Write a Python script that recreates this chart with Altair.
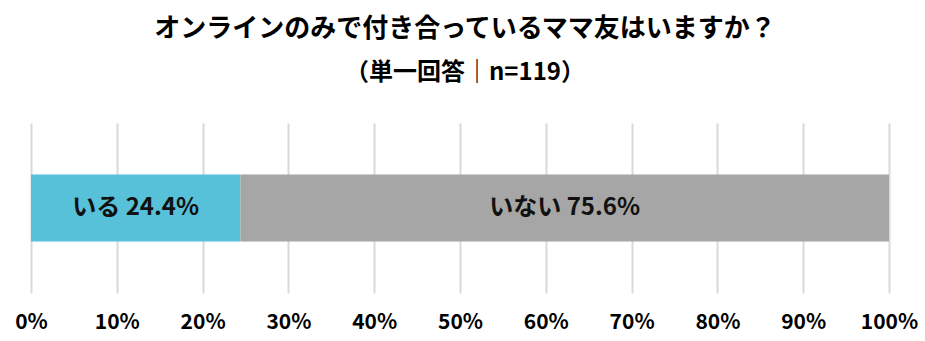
import altair as alt
import pandas as pd

categories = ["いる", "いない"]
values = [24.4, 75.6]
colors = ["#57C1D9", "#A6A6A6"]
tick_values = [0, 10, 20, 30, 40, 50, 60, 70, 80, 90, 100]
title_text = "オンラインのみで付き合っているママ友はいますか？"
subtitle_text = "（単一回答｜n=119）"

FONT = "Noto Sans CJK JP"

df = pd.DataFrame({
    "answer": categories,
    "pct": values,
    "order": list(range(len(categories))),
    "q": ["q"] * len(categories),
})

base = alt.Chart(df).transform_stack(
    stack="pct", groupby=["q"], sort=[alt.SortField("order")], as_=["x0", "x1"]
).transform_calculate(
    mid="(datum.x0 + datum.x1) / 2",
    label="datum.answer + ' ' + format(datum.pct, '.1f') + '%'",
)

bars = base.mark_bar(size=67).encode(
    x=alt.X(
        "x0:Q",
        scale=alt.Scale(domain=[0, 100], nice=False),
        axis=alt.Axis(
            values=tick_values,
            labelExpr="datum.value + '%'",
            labelFlush=False,
            labelOverlap=False,
            grid=True,
            gridColor="#D9D9D9",
            gridWidth=2,
            domain=False,
            ticks=False,
            labelPadding=18,
            labelFont=FONT,
            labelFontSize=21,
            labelFontWeight="bold",
            labelColor="#000000",
            title=None,
        ),
    ),
    x2="x1:Q",
    y=alt.Y("q:N", axis=None),
    color=alt.Color("answer:N", scale=alt.Scale(domain=categories, range=colors), legend=None),
)

text = base.mark_text(font=FONT, fontSize=24, fontWeight="bold", color="#111111").encode(
    x="mid:Q",
    y="q:N",
    text="label:N",
)

chart = (bars + text).properties(
    width=858,
    height=170,
    autosize=alt.AutoSizeParams(type="none"),
    padding={"left": 31, "top": 123, "right": 36, "bottom": 48},
    title=alt.TitleParams(
        text=title_text,
        subtitle=subtitle_text,
        font=FONT,
        fontSize=26,
        fontWeight="bold",
        color="#000000",
        subtitleFont=FONT,
        subtitleFontSize=24,
        subtitleFontWeight="bold",
        subtitleColor="#000000",
        subtitlePadding=19,
        anchor="middle",
        offset=38,
        dx=5,
    ),
).configure(background="white", view=alt.ViewConfig(stroke=None))

chart.save("out.html", embed_options={"renderer": "svg", "actions": False})
